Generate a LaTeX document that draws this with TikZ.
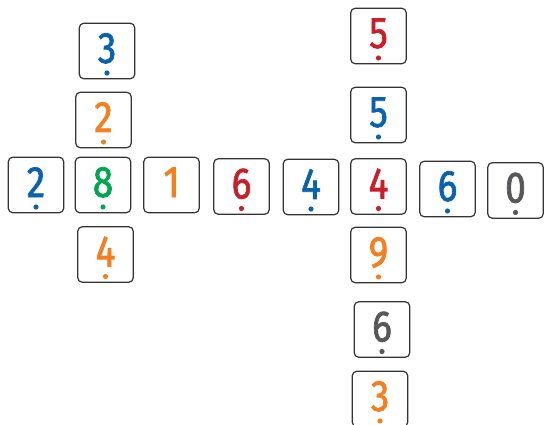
\documentclass[tikz,border=0pt]{standalone}
\usepackage{fontspec}
\setmainfont{Fira Sans}
\newfontfamily\digfont[FakeStretch=0.84,FakeBold=1.6]{Fira Sans}
\definecolor{cblue}{HTML}{0B62AC}
\definecolor{corange}{HTML}{F47F20}
\definecolor{cgreen}{HTML}{00A650}
\definecolor{cred}{HTML}{C8202A}
\definecolor{cgray}{HTML}{58585A}
\definecolor{boxc}{HTML}{333333}
\begin{document}
\begin{tikzpicture}[x=1pt,y=-1pt,
  box/.style={draw=boxc, line width=1.2pt, rounded corners=4.5pt,
    minimum width=55.5pt, minimum height=55.5pt, inner sep=0pt,
    font=\digfont\fontsize{44}{44}\selectfont, text height=30pt, text depth=6pt},
  dig/.style={box, text=#1,
    path picture={\fill[#1] ([yshift=-22pt]path picture bounding box.center) circle (2.6pt);}},
  plain/.style={box, text=#1}]
\useasboundingbox (0,0) rectangle (544,425);
% horizontal row
\node[dig=cblue]    (h1) at (36,185)    {2};
\node[dig=cgreen]   (h2) at (103,185)   {8};
\node[plain=corange](h3) at (171.5,185) {1};
\node[dig=cred]     (h4) at (241.5,186.5) {6};
\node[dig=cblue]    (h5) at (311,187)   {4};
\node[dig=cred]     (h6) at (378.5,186.5) {4};
\node[dig=cblue]    (h7) at (447.5,189) {6};
\node[dig=cgray]    (h8) at (515.5,190.5) {0};
% left column
\node[dig=cblue]    (l1) at (107,51)    {3};
\node[dig=corange]  (l2) at (103.5,120) {2};
\node[dig=corange]  (l3) at (105.5,254.5) {4};
% right column
\node[dig=cred]     (r1) at (378.5,36)  {5};
\node[dig=cblue]    (r2) at (378.5,115) {5};
\node[dig=corange]  (r3) at (378.5,255) {9};
\node[dig=cgray]    (r4) at (382,329.5) {6};
\node[dig=corange]  (r5) at (380,399)   {3};
\end{tikzpicture}
\end{document}
